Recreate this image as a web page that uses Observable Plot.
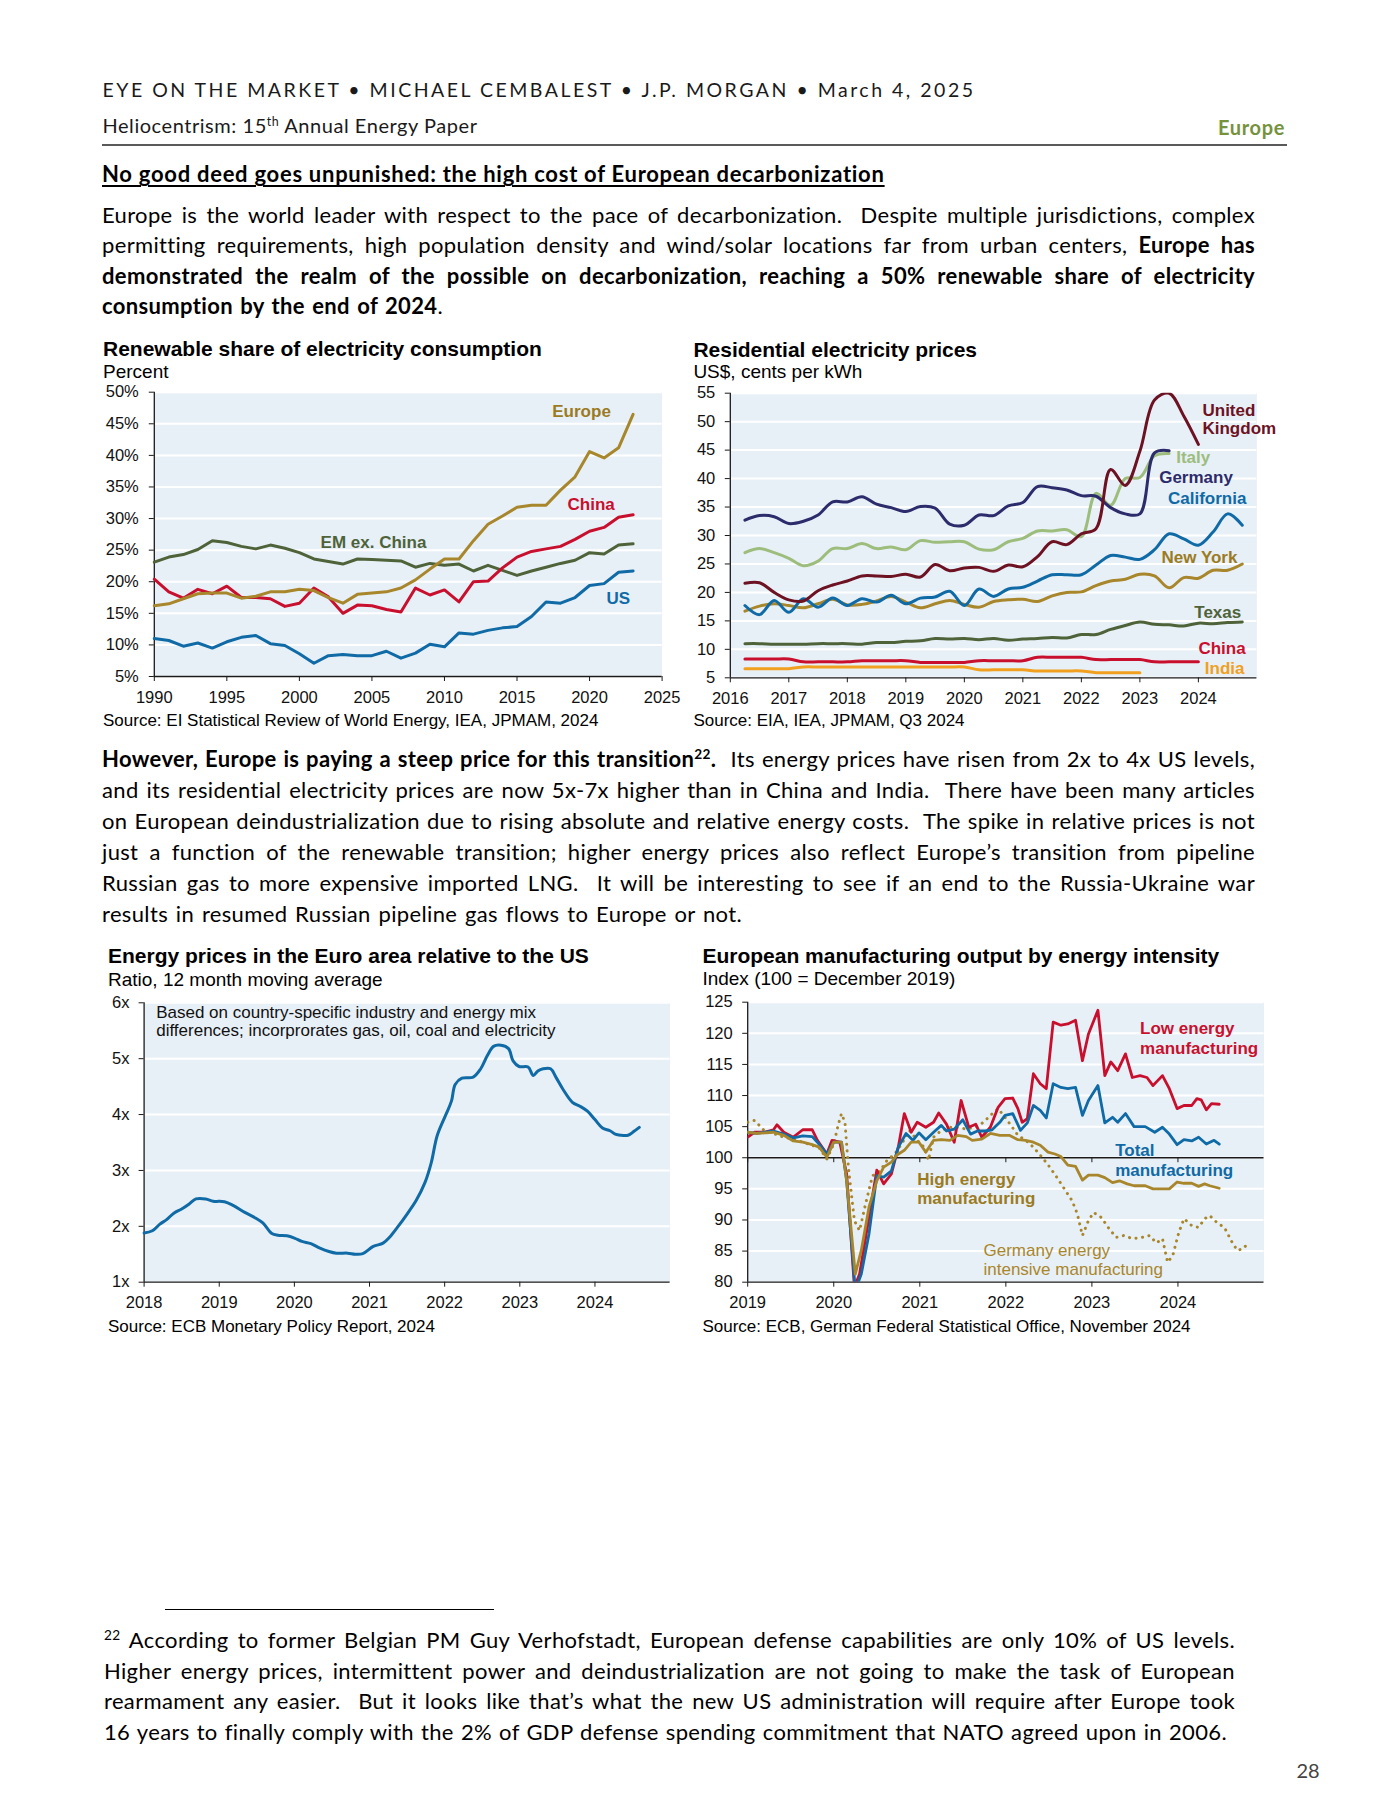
<!DOCTYPE html>
<html><head><meta charset="utf-8">
<script src="https://cdn.jsdelivr.net/npm/d3@7"></script>
<script src="https://cdn.jsdelivr.net/npm/@observablehq/plot@0.6"></script>
<style>
html,body{margin:0;padding:0;background:#fff;}
#page{position:relative;width:1400px;height:1812px;background:#fff;overflow:hidden;}
.t{position:absolute;white-space:pre;display:inline-block;}
.t sup{font-size:62%;line-height:0;vertical-align:0.6em;}
.chart{position:absolute;}
.chart svg{overflow:visible;display:block;}
.rule{position:absolute;}
</style></head>
<body><div id="page"></div>
<script>
// ---------------- DATA ----------------
// Chart 1: Renewable share of electricity consumption (%), annual 1990-2023
const years1 = d3.range(1990, 2024);
const europeShare = [16.2,16.5,17.3,18.1,18.2,18.2,17.4,17.7,18.4,18.4,18.8,18.6,17.5,16.6,18.0,18.2,18.4,19.0,20.3,22.0,23.6,23.6,26.5,29.1,30.4,31.8,32.1,32.1,34.5,36.6,40.6,39.6,41.2,46.5];
const chinaShare  = [20.4,18.4,17.4,18.8,18.1,19.3,17.5,17.5,17.3,16.1,16.6,19.0,17.6,15.0,16.3,16.2,15.6,15.2,19.0,17.9,18.7,16.8,20.0,20.1,22.2,23.9,24.8,25.2,25.6,26.7,28.0,28.6,30.2,30.6];
const emShare     = [23.1,23.9,24.3,25.1,26.5,26.2,25.6,25.2,25.8,25.3,24.6,23.6,23.2,22.8,23.6,23.5,23.4,23.3,22.3,22.9,22.6,22.8,21.7,22.6,21.8,21.0,21.7,22.3,22.9,23.4,24.6,24.4,25.8,26.0];
const usShare     = [11.0,10.7,9.8,10.3,9.5,10.5,11.2,11.5,10.2,9.9,8.6,7.1,8.3,8.5,8.3,8.3,9.0,7.9,8.7,10.1,9.7,11.9,11.7,12.3,12.7,12.9,14.5,16.8,16.6,17.5,19.4,19.7,21.5,21.7];
const xTicks1 = [1990,1995,2000,2005,2010,2015,2020,2025];
const yTicks1 = [5,10,15,20,25,30,35,40,45,50];

// Chart 2: Residential electricity prices (US cents/kWh), quarterly from 2016Q2
const quarters2 = d3.range(2016.25, 2024.76, 0.25);
const ukPrice      = [21.6,21.7,20.0, 18.7,18.5,20.3,21.3, 22.0,22.9,22.9,22.8, 23.2,22.7,24.9,23.8, 24.3,24.4,23.7,24.8, 24.5,26.3,28.9,28.4, 30.3,31.2,41.6,38.8, 44.8,53.8,55.0,51.0, 46.0];
const germanyPrice = [32.7,33.5,33.3, 32.1,32.5,33.6,35.9, 35.9,36.8,35.5,34.9, 34.2,35.1,34.8,32.0, 31.8,33.6,33.5,35.2, 35.8,38.6,38.4,38.0, 37.0,36.9,34.9,33.8, 33.8,44.5,44.9];
const italyPrice   = [27.0,27.7,27.0, 26.0,24.7,25.5,27.7, 27.7,28.6,27.7,28.0, 27.5,29.1,28.8,28.9, 28.9,27.6,27.5,28.9, 29.5,30.8,30.8,31.0, 29.8,37.4,35.3,40.0, 40.2,44.0,44.4];
const caPrice      = [17.7,16.1,18.6, 16.5,18.9,17.4,19.0, 17.7,18.9,18.3,19.5, 18.0,19.0,19.2,20.2, 17.7,20.6,19.3,20.6, 20.9,22.0,23.1,23.1, 23.1,24.8,26.5,26.2, 25.8,27.5,30.3,29.4, 28.3,30.6,33.8,31.8];
const nyPrice      = [16.7,17.6,18.0, 17.7,17.3,18.0,18.8, 17.8,17.9,18.5,19.3, 18.3,17.3,18.0,18.6, 17.9,17.4,18.4,18.7, 18.8,18.4,19.4,20.0, 20.1,21.2,22.0,22.3, 23.2,22.9,20.8,22.6, 22.5,23.9,23.9,25.0];
const txPrice      = [11.0,11.0,10.9, 10.9,10.9,11.0,11.0, 11.0,10.9,11.2,11.2, 11.4,11.5,11.9,11.8, 11.9,11.7,11.9,11.6, 11.8,11.9,12.1,12.0, 12.6,12.6,13.5,14.2, 14.8,14.4,14.3,14.1, 14.6,14.5,14.7,14.8];
const chinaPrice   = [8.3,8.3,8.3, 8.3,7.8,7.8,7.8, 7.8,8.0,8.0,8.0, 8.0,7.7,7.7,7.7, 7.7,8.0,8.0,8.0, 8.0,8.6,8.6,8.6, 8.6,8.2,8.2,8.2, 8.2,7.8,7.8,7.8, 7.8];
const indiaPrice   = [6.6,6.6,6.6, 6.6,6.9,6.9,6.9, 6.9,6.9,6.9,6.9, 6.9,6.9,6.9,6.9, 6.9,6.4,6.4,6.4, 6.4,6.2,6.2,6.2, 6.2,5.9,5.9,5.9, 5.9];
const xTicks2 = [2016,2017,2018,2019,2020,2021,2022,2023,2024];
const yTicks2 = [5,10,15,20,25,30,35,40,45,50,55];

// Chart 3: Energy prices in the Euro area relative to the US (ratio)
const ratioDates = [2018.0,2018.11,2018.21,2018.3,2018.4,2018.5,2018.6,2018.69,2018.82,2018.92,2019.07,2019.19,2019.34,2019.48,2019.58,2019.7,2019.78,2019.9,2020.0,2020.1,2020.22,2020.34,2020.46,2020.56,2020.71,2020.81,2020.91,2021.05,2021.18,2021.27,2021.37,2021.5,2021.62,2021.74,2021.82,2021.9,2022.01,2022.09,2022.14,2022.23,2022.38,2022.48,2022.57,2022.65,2022.75,2022.85,2022.91,2022.99,2023.11,2023.18,2023.24,2023.31,2023.41,2023.48,2023.58,2023.7,2023.8,2023.9,2024.0,2024.1,2024.2,2024.27,2024.34,2024.44,2024.52,2024.59];
const ratioValues = [1.88,1.92,2.04,2.12,2.24,2.31,2.40,2.49,2.49,2.45,2.44,2.37,2.25,2.15,2.06,1.87,1.84,1.83,1.79,1.73,1.69,1.61,1.55,1.52,1.52,1.50,1.51,1.64,1.70,1.81,1.98,2.22,2.46,2.79,3.13,3.62,3.98,4.24,4.54,4.65,4.67,4.82,5.06,5.22,5.24,5.18,4.96,4.86,4.85,4.70,4.78,4.82,4.82,4.67,4.44,4.22,4.15,4.06,3.91,3.76,3.71,3.65,3.63,3.63,3.70,3.77];
const xTicks3 = [2018,2019,2020,2021,2022,2023,2024];
const yTicks3 = [1,2,3,4,5,6];

// Chart 4: European manufacturing output by energy intensity (index), [date, value]
const lowEnergy = [[2019.00,103.3],[2019.08,104.1],[2019.19,104.1],[2019.30,104.5],[2019.34,105.3],[2019.42,104.1],[2019.53,103.3],[2019.64,104.5],[2019.75,104.5],[2019.81,102.8],[2019.92,100.6],[2019.98,102.8],[2020.07,102.5],[2020.15,97.4],[2020.24,79.2],[2020.30,81.3],[2020.39,88.8],[2020.50,98.0],[2020.58,95.8],[2020.67,97.4],[2020.75,101.7],[2020.82,107.1],[2020.90,104.1],[2020.97,105.7],[2021.07,104.9],[2021.16,105.7],[2021.22,107.2],[2021.31,105.4],[2021.40,102.5],[2021.48,109.2],[2021.57,104.9],[2021.65,105.4],[2021.72,103.3],[2021.82,104.9],[2021.91,108.1],[2021.99,109.5],[2022.08,109.6],[2022.14,107.9],[2022.19,105.7],[2022.25,106.3],[2022.32,113.5],[2022.40,111.9],[2022.47,111.1],[2022.55,121.8],[2022.64,121.3],[2022.72,121.5],[2022.81,122.1],[2022.89,115.6],[2022.96,119.9],[2023.07,123.7],[2023.15,113.2],[2023.22,115.4],[2023.30,114.0],[2023.39,116.7],[2023.47,112.9],[2023.56,113.2],[2023.64,112.9],[2023.71,111.6],[2023.82,113.2],[2023.90,111.1],[2023.99,107.9],[2024.07,108.4],[2024.16,108.4],[2024.22,109.5],[2024.27,109.3],[2024.33,107.7],[2024.39,108.7],[2024.48,108.6]];
const totalMfg = [[2019.00,104.1],[2019.10,103.9],[2019.30,104.3],[2019.42,103.8],[2019.53,103.2],[2019.64,103.5],[2019.75,103.4],[2019.81,102.5],[2019.92,100.6],[2020.00,102.5],[2020.09,102.5],[2020.15,96.3],[2020.25,78.7],[2020.32,81.3],[2020.41,87.8],[2020.50,97.1],[2020.58,96.9],[2020.67,97.9],[2020.75,101.7],[2020.84,103.9],[2020.92,102.8],[2020.99,104.0],[2021.07,102.9],[2021.16,104.1],[2021.25,105.2],[2021.31,104.3],[2021.40,104.6],[2021.50,106.1],[2021.59,103.8],[2021.67,104.3],[2021.76,104.3],[2021.84,104.5],[2021.93,105.7],[2021.99,106.8],[2022.08,107.1],[2022.17,104.4],[2022.25,105.6],[2022.32,108.4],[2022.40,107.6],[2022.47,106.4],[2022.55,111.9],[2022.64,111.3],[2022.72,111.1],[2022.81,111.3],[2022.89,106.8],[2022.96,109.2],[2023.07,111.6],[2023.15,105.6],[2023.24,106.5],[2023.30,105.7],[2023.39,107.1],[2023.49,105.0],[2023.62,105.0],[2023.73,104.1],[2023.82,104.9],[2023.90,103.8],[2023.99,102.1],[2024.07,102.9],[2024.16,102.7],[2024.24,103.3],[2024.33,102.2],[2024.42,102.8],[2024.48,102.2]];
const highEnergy = [[2019.00,104.1],[2019.10,103.9],[2019.30,104.1],[2019.42,103.6],[2019.53,102.7],[2019.64,102.5],[2019.75,102.1],[2019.83,101.7],[2019.92,100.1],[2020.00,102.5],[2020.09,102.5],[2020.15,96.3],[2020.25,81.3],[2020.32,85.1],[2020.41,92.1],[2020.50,96.3],[2020.58,98.5],[2020.67,99.3],[2020.73,100.4],[2020.82,101.2],[2020.90,102.5],[2020.99,102.5],[2021.07,100.9],[2021.16,102.8],[2021.25,102.9],[2021.35,102.8],[2021.44,103.6],[2021.54,103.4],[2021.61,102.8],[2021.72,103.0],[2021.82,103.9],[2021.93,103.6],[2022.04,103.6],[2022.14,102.9],[2022.23,102.8],[2022.32,102.5],[2022.40,102.0],[2022.49,100.9],[2022.57,100.6],[2022.64,100.2],[2022.72,98.8],[2022.81,98.6],[2022.89,96.4],[2022.96,97.2],[2023.07,97.2],[2023.15,96.8],[2023.24,96.0],[2023.32,96.3],[2023.41,95.8],[2023.49,95.5],[2023.62,95.5],[2023.71,95.0],[2023.82,95.0],[2023.90,95.0],[2023.99,96.1],[2024.07,95.9],[2024.16,95.9],[2024.24,95.4],[2024.31,95.8],[2024.37,95.5],[2024.48,95.1]];
const germanyIntensive = [[2019.00,105.7],[2019.08,106.0],[2019.19,104.4],[2019.30,103.9],[2019.42,103.3],[2019.53,103.0],[2019.64,102.5],[2019.75,102.0],[2019.83,101.6],[2019.92,99.8],[2020.00,102.2],[2020.05,105.2],[2020.09,107.1],[2020.13,105.7],[2020.17,98.5],[2020.24,89.9],[2020.30,88.3],[2020.37,92.6],[2020.45,97.1],[2020.54,97.9],[2020.62,99.6],[2020.71,100.6],[2020.80,102.5],[2020.88,104.4],[2020.97,102.8],[2021.05,101.7],[2021.10,99.6],[2021.16,103.3],[2021.25,104.4],[2021.35,104.9],[2021.44,104.9],[2021.54,104.6],[2021.65,104.9],[2021.74,105.7],[2021.82,106.8],[2021.91,107.9],[2021.99,106.5],[2022.06,105.2],[2022.14,103.6],[2022.23,102.8],[2022.32,101.7],[2022.42,100.1],[2022.51,98.5],[2022.59,96.9],[2022.68,95.0],[2022.77,93.1],[2022.83,91.0],[2022.89,87.5],[2022.96,89.9],[2023.02,91.2],[2023.11,90.4],[2023.19,88.8],[2023.28,87.2],[2023.37,87.5],[2023.47,87.0],[2023.58,87.2],[2023.67,87.5],[2023.75,86.3],[2023.82,87.0],[2023.88,83.2],[2023.94,84.3],[2024.01,88.0],[2024.07,90.2],[2024.16,89.1],[2024.24,88.8],[2024.31,90.2],[2024.37,90.7],[2024.46,89.5],[2024.54,88.8],[2024.63,86.4],[2024.69,85.1],[2024.76,85.4],[2024.82,86.4]];
const xTicks4 = [2019,2020,2021,2022,2023,2024];
const yTicks4 = [80,85,90,95,100,105,110,115,120,125];

// Series labels (anchored in data units)
const labels1 = [
  {label:"Europe", x:2017.43, y:47.0, key:"goldT"},
  {label:"China", x:2018.48, y:32.2, key:"red"},
  {label:"EM ex. China", x:2001.46, y:26.2, key:"green"},
  {label:"US", x:2021.17, y:17.4, key:"blue"}
];
const labels2 = [
  {label:"United\nKingdom", x:2024.07, y:50.4, key:"maroon", lh:1.08},
  {label:"Italy", x:2023.62, y:43.7, key:"lgreen", lh:1},
  {label:"Germany", x:2023.33, y:40.2, key:"navy", lh:1},
  {label:"California", x:2023.48, y:36.5, key:"blue", lh:1},
  {label:"New York", x:2023.37, y:26.1, key:"goldT", lh:1},
  {label:"Texas", x:2023.93, y:16.5, key:"green", lh:1},
  {label:"China", x:2024.0, y:10.15, key:"red", lh:1},
  {label:"India", x:2024.11, y:6.6, key:"orange", lh:1}
];
const labels4 = [
  {label:"Low energy\nmanufacturing", x:2023.56, y:119.3, key:"red", bold:true, lh:1.17},
  {label:"Total\nmanufacturing", x:2023.27, y:99.7, key:"blue", bold:true, lh:1.16},
  {label:"High energy\nmanufacturing", x:2020.97, y:95.06, key:"goldT", bold:true, lh:1.1},
  {label:"Germany energy\nintensive manufacturing", x:2021.74, y:83.62, key:"gold", bold:false, lh:1.08}
];

// ---------------- STYLE ----------------
const COL = {
  gold:"#a8862b", goldT:"#9b7b22", red:"#c8102e", green:"#4e6339", blue:"#0f6aa6",
  maroon:"#6d1223", navy:"#2c2b6b", lgreen:"#9dbd7d", orange:"#f0a01e"
};
const BG = "#e8f0f7";
const AXIS = "#1a1a1a";
const LATO = "Lato, 'Open Sans', sans-serif";
const ARIAL = "'Liberation Sans', Arial, sans-serif";
const METRICS = {lato:{asc:0.987, desc:0.213}, lib:{asc:0.905, desc:0.212}};
const page = document.getElementById("page");

function fitText(el, target, lsOnly) {
  el.style.letterSpacing = "0px"; el.style.wordSpacing = "0px";
  const w = el.getBoundingClientRect().width;
  const txt = el.textContent;
  const n = txt.length;
  const sp = (txt.match(/ /g) || []).length;
  const diff = target - w;
  const ls = lsOnly ? diff / n : Math.max(-0.35, Math.min(0.35, diff / n));
  el.style.letterSpacing = ls + "px";
  if (!lsOnly && sp) {
    const w2 = el.getBoundingClientRect().width;
    el.style.wordSpacing = ((target - w2) / sp) + "px";
  }
}
const texts = [];
function addText(o) {
  const el = document.createElement("div");
  el.className = "t";
  el.innerHTML = o.html;
  const m = METRICS[o.face];
  const size = o.size, lh = o.lh || Math.round(size * 1.2);
  el.style.fontFamily = o.face === "lato" ? LATO : ARIAL;
  el.style.fontSize = size + "px";
  el.style.lineHeight = lh + "px";
  el.style.fontWeight = o.weight || 400;
  el.style.color = o.color || "#000";
  if (o.underline) { el.style.textDecoration = "underline"; el.style.textUnderlineOffset = "3px"; el.style.textDecorationThickness = "1.5px"; }
  el.style.top = (o.cy - ((lh - (m.asc + m.desc) * size) / 2 + m.asc * size - 0.358 * size)) + "px";
  el.style.left = (o.x || 0) + "px";
  page.appendChild(el);
  texts.push({el, o});
}
function layoutTexts() {
  for (const {el, o} of texts) {
    if (o.w) fitText(el, o.w, o.lsOnly);
    const w = el.getBoundingClientRect().width;
    if (o.right != null) el.style.left = (o.right - w) + "px";
    if (o.cx != null) el.style.left = (o.cx - w / 2) + "px";
  }
}
function addRule(x, y, w, h, c) {
  const d = document.createElement("div");
  d.className = "rule";
  Object.assign(d.style, {left:x+"px", top:y+"px", width:w+"px", height:h+"px", background:c});
  page.appendChild(d);
}

// ---------------- PAGE TEXT ----------------
const BODY = 22;
addText({face:"lato", size:19.5, html:"EYE ON THE MARKET • MICHAEL CEMBALEST • J.P. MORGAN • March 4, 2025", x:102.5, cy:90, w:873, lsOnly:true, color:"#1a1a1a"});
addText({face:"lato", size:20, html:"Heliocentrism: 15<sup>th</sup> Annual Energy Paper", x:102.5, cy:126, w:375, lsOnly:true, color:"#1a1a1a"});
addText({face:"lato", size:20, weight:700, html:"Europe", right:1285, cy:128, w:67, lsOnly:true, color:"#76923c"});
addRule(102, 144, 1185, 2, "#5a5a5a");
addText({face:"lato", size:BODY, weight:700, html:"No good deed goes unpunished: the high cost of European decarbonization", x:102, cy:175, w:783, lsOnly:true, underline:true});

const P1 = [
  ["Europe is the world leader with respect to the pace of decarbonization.  Despite multiple jurisdictions, complex", 1153],
  ["permitting requirements, high population density and wind/solar locations far from urban centers, <b>Europe has</b>", 1153],
  ["<b>demonstrated the realm of the possible on decarbonization, reaching a 50% renewable share of electricity</b>", 1153],
  ["<b>consumption by the end of 2024</b>.", 341]
];
const P1Y = [215.5, 245.8, 276.3, 306.6];
P1.forEach((l, i) => addText({face:"lato", size:BODY, html:l[0], x:102, cy:P1Y[i], w:l[1]}));

const P2 = [
  ["<b>However, Europe is paying a steep price for this transition<sup>22</sup>.</b>  Its energy prices have risen from 2x to 4x US levels,", 1153],
  ["and its residential electricity prices are now 5x-7x higher than in China and India.  There have been many articles", 1153],
  ["on European deindustrialization due to rising absolute and relative energy costs.  The spike in relative prices is not", 1153],
  ["just a function of the renewable transition; higher energy prices also reflect Europe’s transition from pipeline", 1153],
  ["Russian gas to more expensive imported LNG.  It will be interesting to see if an end to the Russia-Ukraine war", 1153],
  ["results in resumed Russian pipeline gas flows to Europe or not.", 640]
];
const P2Y = [759.3, 790.3, 821.3, 852.3, 883.3, 914.3];
P2.forEach((l, i) => addText({face:"lato", size:BODY, html:l[0], x:102, cy:P2Y[i], w:l[1]}));

addRule(165, 1609, 329, 1.3, "#000");
const FN = [
  ["<sup>22</sup> According to former Belgian PM Guy Verhofstadt, European defense capabilities are only 10% of US levels.", 1131],
  ["Higher energy prices, intermittent power and deindustrialization are not going to make the task of European", 1131],
  ["rearmament any easier.  But it looks like that’s what the new US administration will require after Europe took", 1131],
  ["16 years to finally comply with the 2% of GDP defense spending commitment that NATO agreed upon in 2006.", 1123]
];
const FNY = [1641, 1671.3, 1701.6, 1732.3];
FN.forEach((l, i) => addText({face:"lato", size:BODY, html:l[0], x:104, cy:FNY[i], w:l[1]}));
addText({face:"lato", size:20, html:"28", cx:1308, cy:1771, color:"#444"});

// chart titles / subtitles / sources
const CT = [
  {t:"Renewable share of electricity consumption", s:"Percent", src:"Source: EI Statistical Review of World Energy, IEA, JPMAM, 2024", x:103, ty:349, sy:371.7, ry:720.7},
  {t:"Residential electricity prices", s:"US$, cents per kWh", src:"Source: EIA, IEA, JPMAM, Q3 2024", x:693.4, ty:349.3, sy:371.7, ry:720.7},
  {t:"Energy prices in the Euro area relative to the US", s:"Ratio, 12 month moving average", src:"Source: ECB Monetary Policy Report, 2024", x:108, ty:956, sy:979.3, ry:1327.3},
  {t:"European manufacturing output by energy intensity", s:"Index (100 = December 2019)", src:"Source: ECB, German Federal Statistical Office, November 2024", x:702.4, ty:956, sy:979, ry:1327}
];
CT.forEach(c => {
  addText({face:"lib", size:21, weight:700, html:c.t, x:c.x, cy:c.ty, lh:24});
  addText({face:"lib", size:19, html:c.s, x:c.x, cy:c.sy, lh:22});
  addText({face:"lib", size:17, html:c.src, x:c.x, cy:c.ry, lh:20});
});

// ---------------- CHARTS ----------------
function place(svg, left, top) {
  const d = document.createElement("div");
  d.className = "chart";
  d.style.left = left + "px"; d.style.top = top + "px";
  d.appendChild(svg);
  page.appendChild(d);
}
const baseStyle = () => ({fontFamily: ARIAL, fontSize: "16.5px", color: AXIS, background: "transparent", overflow: "visible"});
function frameMarks(xTicks, yTicks, xmin, ymin, yFmt, padX, padY) {
  return [
    Plot.frame({fill: BG, stroke: "none"}),
    Plot.gridY({ticks: yTicks, stroke: "#fff", strokeOpacity: 1, strokeWidth: 2}),
    Plot.axisY({ticks: yTicks, tickSize: 5, tickPadding: padY, tickFormat: yFmt, label: null, fill: "#111"}),
    Plot.axisX({ticks: xTicks, tickSize: 5, tickPadding: padX, tickFormat: d => String(d), label: null, fill: "#111"}),
    Plot.ruleX([xmin], {stroke: AXIS, strokeWidth: 1.3}),
    Plot.ruleY([ymin], {stroke: AXIS, strokeWidth: 1.3})
  ];
}
function labelMarks(labels) {
  return labels.map(l => Plot.text([l], {
    x: "x", y: "y", text: "label", fill: COL[l.key], textAnchor: "start", lineAnchor: "middle",
    fontWeight: (l.bold === false) ? "normal" : "bold", fontSize: 17, lineHeight: l.lh || 1
  }));
}

// Chart 1
const rows1 = years1.map((y, i) => ({year: y, europe: europeShare[i], china: chinaShare[i], em: emShare[i], us: usShare[i]}));
const lineOpts = (k, c, w) => ({x: "year", y: k, stroke: c, strokeWidth: w, strokeLinejoin: "round", strokeLinecap: "round"});
place(Plot.plot({
  width: 590, height: 330, marginLeft: 58.8, marginRight: 23.4, marginTop: 11.7, marginBottom: 34,
  style: baseStyle(), x: {domain: [1990, 2025]}, y: {domain: [5, 50]},
  marks: [
    ...frameMarks(xTicks1, yTicks1, 1990, 5, d => d + "%", 9.7, 10.5),
    Plot.line(rows1, lineOpts("em", COL.green, 3)),
    Plot.line(rows1, lineOpts("us", COL.blue, 3)),
    Plot.line(rows1, lineOpts("china", COL.red, 3)),
    Plot.line(rows1, lineOpts("europe", COL.gold, 3)),
    ...labelMarks(labels1)
  ]
}), 95, 380);

// Chart 2
const series2 = [
  ["india", indiaPrice, COL.orange], ["china", chinaPrice, COL.red], ["texas", txPrice, COL.green],
  ["ny", nyPrice, COL.gold], ["ca", caPrice, COL.blue], ["italy", italyPrice, COL.lgreen],
  ["germany", germanyPrice, COL.navy], ["uk", ukPrice, COL.maroon]
];
place(Plot.plot({
  width: 600, height: 330, marginLeft: 44.8, marginRight: 28.6, marginTop: 12.7, marginBottom: 32.7,
  style: baseStyle(), x: {domain: [2016, 2025]}, y: {domain: [5, 55]},
  marks: [
    ...frameMarks(xTicks2, yTicks2, 2016, 5, d => String(d), 9, 10),
    ...series2.map(([k, vals, c]) => Plot.line(vals.map((v, i) => ({q: quarters2[i], v})), {
      x: "q", y: "v", stroke: c, strokeWidth: 3, curve: "catmull-rom", strokeLinecap: "round", clip: true
    })),
    ...labelMarks(labels2)
  ]
}), 685, 380);

// Chart 3
const rows3 = ratioDates.map((d, i) => ({d, v: ratioValues[i]}));
place(Plot.plot({
  width: 595, height: 325, marginLeft: 48.6, marginRight: 20.4, marginTop: 12.3, marginBottom: 33.3,
  style: baseStyle(), x: {domain: [2018, 2025]}, y: {domain: [1, 6]},
  marks: [
    ...frameMarks(xTicks3, yTicks3, 2018, 1, d => d + "x", 9.5, 9.7),
    Plot.line(rows3, {x: "d", y: "v", stroke: COL.blue, strokeWidth: 3, curve: "catmull-rom", strokeLinecap: "round"})
  ]
}), 95, 990);
addText({face:"lib", size:17, lh:18.3, html:"Based on country-specific industry and energy mix\ndifferences; incorprorates gas, oil, coal and electricity", x:156.2, cy:1012.7, color:"#111"});

// Chart 4
const toRows = arr => arr.map(([d, v]) => ({d, v}));
place(Plot.plot({
  width: 600, height: 325, marginLeft: 57.2, marginRight: 26.5, marginTop: 11.7, marginBottom: 33.3,
  style: baseStyle(), x: {domain: [2019, 2025]}, y: {domain: [80, 125]},
  marks: [
    ...frameMarks(xTicks4, yTicks4, 2019, 80, d => String(d), 9.5, 10),
    Plot.ruleY([100], {stroke: AXIS, strokeWidth: 1.6}),
    Plot.ruleX(xTicks4, {x: d => d, y1: 100, y2: 99.2, stroke: AXIS, strokeWidth: 1}),
    Plot.line(toRows(germanyIntensive), {x: "d", y: "v", stroke: COL.gold, strokeWidth: 3, strokeDasharray: "0.1 6.5", strokeLinecap: "round", clip: true}),
    Plot.line(toRows(lowEnergy), {x: "d", y: "v", stroke: COL.red, strokeWidth: 2.8, strokeLinejoin: "round", clip: true}),
    Plot.line(toRows(totalMfg), {x: "d", y: "v", stroke: COL.blue, strokeWidth: 2.8, strokeLinejoin: "round", clip: true}),
    Plot.line(toRows(highEnergy), {x: "d", y: "v", stroke: COL.gold, strokeWidth: 2.8, strokeLinejoin: "round", clip: true}),
    ...labelMarks(labels4)
  ]
}), 690, 990);

layoutTexts();
if (document.fonts && document.fonts.ready) document.fonts.ready.then(layoutTexts);
</script></body></html>
